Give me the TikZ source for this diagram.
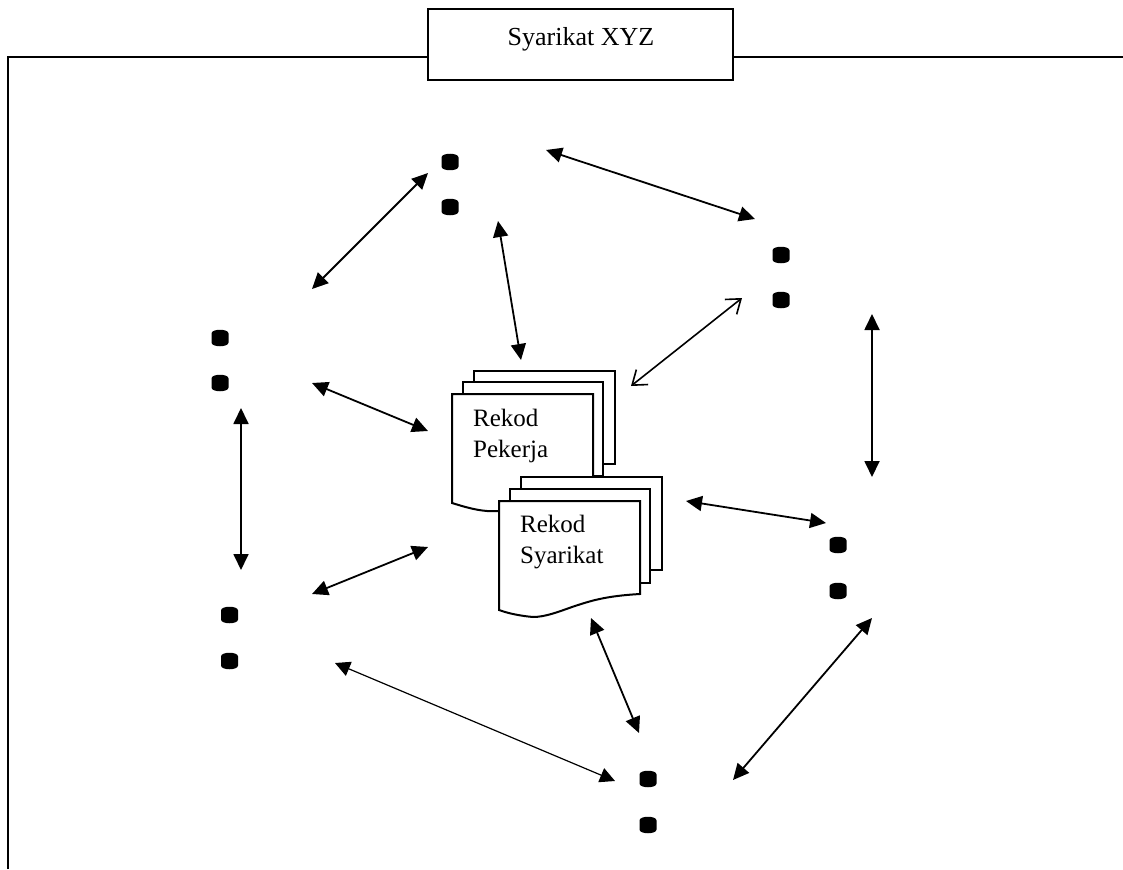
\documentclass[tikz,border=0pt]{standalone}
\usepackage{fontspec}
\setmainfont{Liberation Serif}
\usetikzlibrary{arrows.meta}
\tikzset{
  ln/.style={line width=2pt,black},
  page/.style={ln,fill=white,line join=miter},
  dbl/.style={line width=1.8pt,black,{Triangle[length=16pt,width=15pt]}-{Triangle[length=16pt,width=15pt]}},
  thindbl/.style={line width=1.2pt,black,{Triangle[length=15pt,width=15pt]}-{Triangle[length=15pt,width=15pt]}},
  opendbl/.style={line width=1.6pt,black,{Straight Barb[length=13pt,width=19pt,line width=1.6pt]}-{Straight Barb[length=13pt,width=19pt,line width=1.6pt]}},
  dot/.style={minimum width=17pt,minimum height=16pt,inner sep=0pt,outer sep=0pt},
  lbl/.style={font=\fontsize{25}{30}\selectfont,inner sep=0pt,anchor=base west}
}
\newcommand{\dbdot}[2]{%
  \node[dot] (#1) at (#2) {};
  \fill[black,shift={(#1.center)}] (-8.5,-4.5) .. controls (-8.5,-9.5) and (8.5,-9.5) .. (8.5,-4.5)
    -- (8.5,4.5) .. controls (8.5,9.5) and (-8.5,9.5) .. (-8.5,4.5) -- cycle;
}
\begin{document}
\begin{tikzpicture}[x=1pt,y=-1pt]
\useasboundingbox (0,0) rectangle (1123,869);
% frame
\coordinate (fbl) at (7.5,869);
\coordinate (ftl) at (7.5,57);
\coordinate (ftr) at (1123,57);
\draw[ln] (fbl) -- (ftl) -- (ftr);
\node[draw,ln,fill=white,minimum width=305pt,minimum height=71pt,inner sep=0pt] (title) at (580.5,44.5) {};
\node[lbl,anchor=base,font=\fontsize{26}{30}\selectfont] (titletext) at (581,46) {Syarikat XYZ};
% document stack 1
\draw[page] (474,464) -- (474,371) -- (615,371) -- (615,464) -- cycle;
\draw[page] (463,476) -- (463,382) -- (603,382) -- (603,476) -- cycle;
\draw[page] (452,503) -- (452,394) -- (593,394) -- (593,490) -- (520,511)
  .. controls (505,511) and (490,511) .. (487,511)
  .. controls (475,510) and (465,507) .. (452,503) -- cycle;
\node[lbl] (rp1) at (473,426) {Rekod};
\node[lbl] (rp2) at (473,457) {Pekerja};
% document stack 2
\draw[page] (521,570) -- (521,477) -- (662,477) -- (662,570) -- cycle;
\draw[page] (510,583) -- (510,489) -- (650,489) -- (650,583) -- cycle;
\draw[page] (499,610) -- (499,501) -- (640,501) -- (640,594)
  .. controls (605,596) and (590,601) .. (572,607)
  .. controls (558,612) and (545,617) .. (533,617)
  .. controls (522,616) and (510,614) .. (499,610) -- cycle;
\node[lbl] (rs1) at (520,532) {Rekod};
\node[lbl] (rs2) at (520,563) {Syarikat};
% dots
\dbdot{a1}{450,162}
\dbdot{a2}{450,207}
\dbdot{b1}{781,255}
\dbdot{b2}{781,300}
\dbdot{c1}{220,338}
\dbdot{c2}{220,383}
\dbdot{d1}{838,545}
\dbdot{d2}{838,591}
\dbdot{e1}{229.5,615}
\dbdot{e2}{229.5,661}
\dbdot{f1}{648,779}
\dbdot{f2}{648,825}
% connector ends
\coordinate (p1a) at (546,150); \coordinate (p1b) at (755,219);
\coordinate (p2a) at (428,173); \coordinate (p2b) at (312,289);
\coordinate (p3a) at (498,221); \coordinate (p3b) at (521,360);
\coordinate (p4a) at (742,298); \coordinate (p4b) at (631,386);
\coordinate (p5a) at (872,314); \coordinate (p5b) at (872,477);
\coordinate (p6a) at (312,383); \coordinate (p6b) at (428,431);
\coordinate (p7a) at (241,408); \coordinate (p7b) at (241,570);
\coordinate (p8a) at (428,547); \coordinate (p8b) at (312,594);
\coordinate (p9a) at (686,501); \coordinate (p9b) at (826,523);
\coordinate (p10a) at (872,618); \coordinate (p10b) at (733,780);
\coordinate (p11a) at (591,618); \coordinate (p11b) at (639,733);
\coordinate (p12a) at (335,663); \coordinate (p12b) at (615,781);
\draw[dbl] (p1a) -- (p1b);
\draw[dbl] (p2a) -- (p2b);
\draw[dbl] (p3a) -- (p3b);
\draw[opendbl] (p4a) -- (p4b);
\draw[dbl] (p5a) -- (p5b);
\draw[dbl] (p6a) -- (p6b);
\draw[dbl] (p7a) -- (p7b);
\draw[dbl] (p8a) -- (p8b);
\draw[dbl] (p9a) -- (p9b);
\draw[dbl] (p10a) -- (p10b);
\draw[dbl] (p11a) -- (p11b);
\draw[thindbl] (p12a) -- (p12b);
\end{tikzpicture}
\end{document}
